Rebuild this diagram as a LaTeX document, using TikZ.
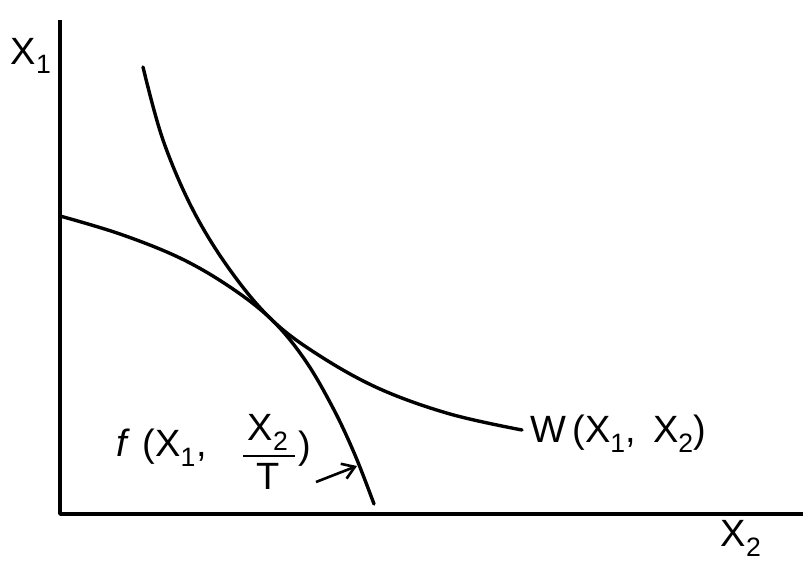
\documentclass[tikz,border=0pt]{standalone}
\usepackage{fontspec}
\setmainfont{Liberation Sans}
\usetikzlibrary{arrows.meta}
\begin{document}
\begin{tikzpicture}[x=1pt,y=-1pt,
  curve/.style={line width=3.4pt,line cap=round,line join=round},
  lab/.style={font=\fontsize{38}{44}\selectfont,inner sep=0pt}]
\useasboundingbox (0,0) rectangle (803,563);
% axes
\coordinate (top) at (60,20);
\coordinate (orig) at (60,514);
\coordinate (right) at (803,514);
\draw[curve,line cap=butt] (top) -- (orig) -- (right);
\node[lab] (x1) at (31,56) {X\textsubscript{1}};
\node[lab] (x2) at (741,538) {X\textsubscript{2}};
% W curve (convex)
\draw[curve] plot[smooth,tension=0.6] coordinates {(143,67) (163,140) (193,210) (230,270) (272,320) (320,356) (380,389) (450,414) (522,430)};
% f frontier (concave)
\draw[curve] plot[smooth,tension=0.6] coordinates {(60,216) (120,234) (180,258) (230,287) (272,320) (305,360) (333,408) (355,455) (374,504)};
\node[lab,anchor=west] (wl) at (530,434) {W\,(X\textsubscript{1},\, X\textsubscript{2})};
% f label built from parts
\node[lab,anchor=west] (fl) at (116,448) {\textit{f}\,\,(X\textsubscript{1},};
\node[lab] (num) at (268,432) {X\textsubscript{2}};
\node[lab] (den) at (268,476) {T};
\coordinate (barl) at (243,456);
\coordinate (barr) at (295,456);
\draw[line width=2.6pt] (barl) -- (barr);
\node[lab] (rp) at (305,449) {)};
\coordinate (as) at (316,482);
\coordinate (ah) at (357,466);
\draw[line width=2.6pt,-{Straight Barb[length=12pt,width=16pt,line width=2.6pt]}] (as) -- (ah);
\end{tikzpicture}
\end{document}
